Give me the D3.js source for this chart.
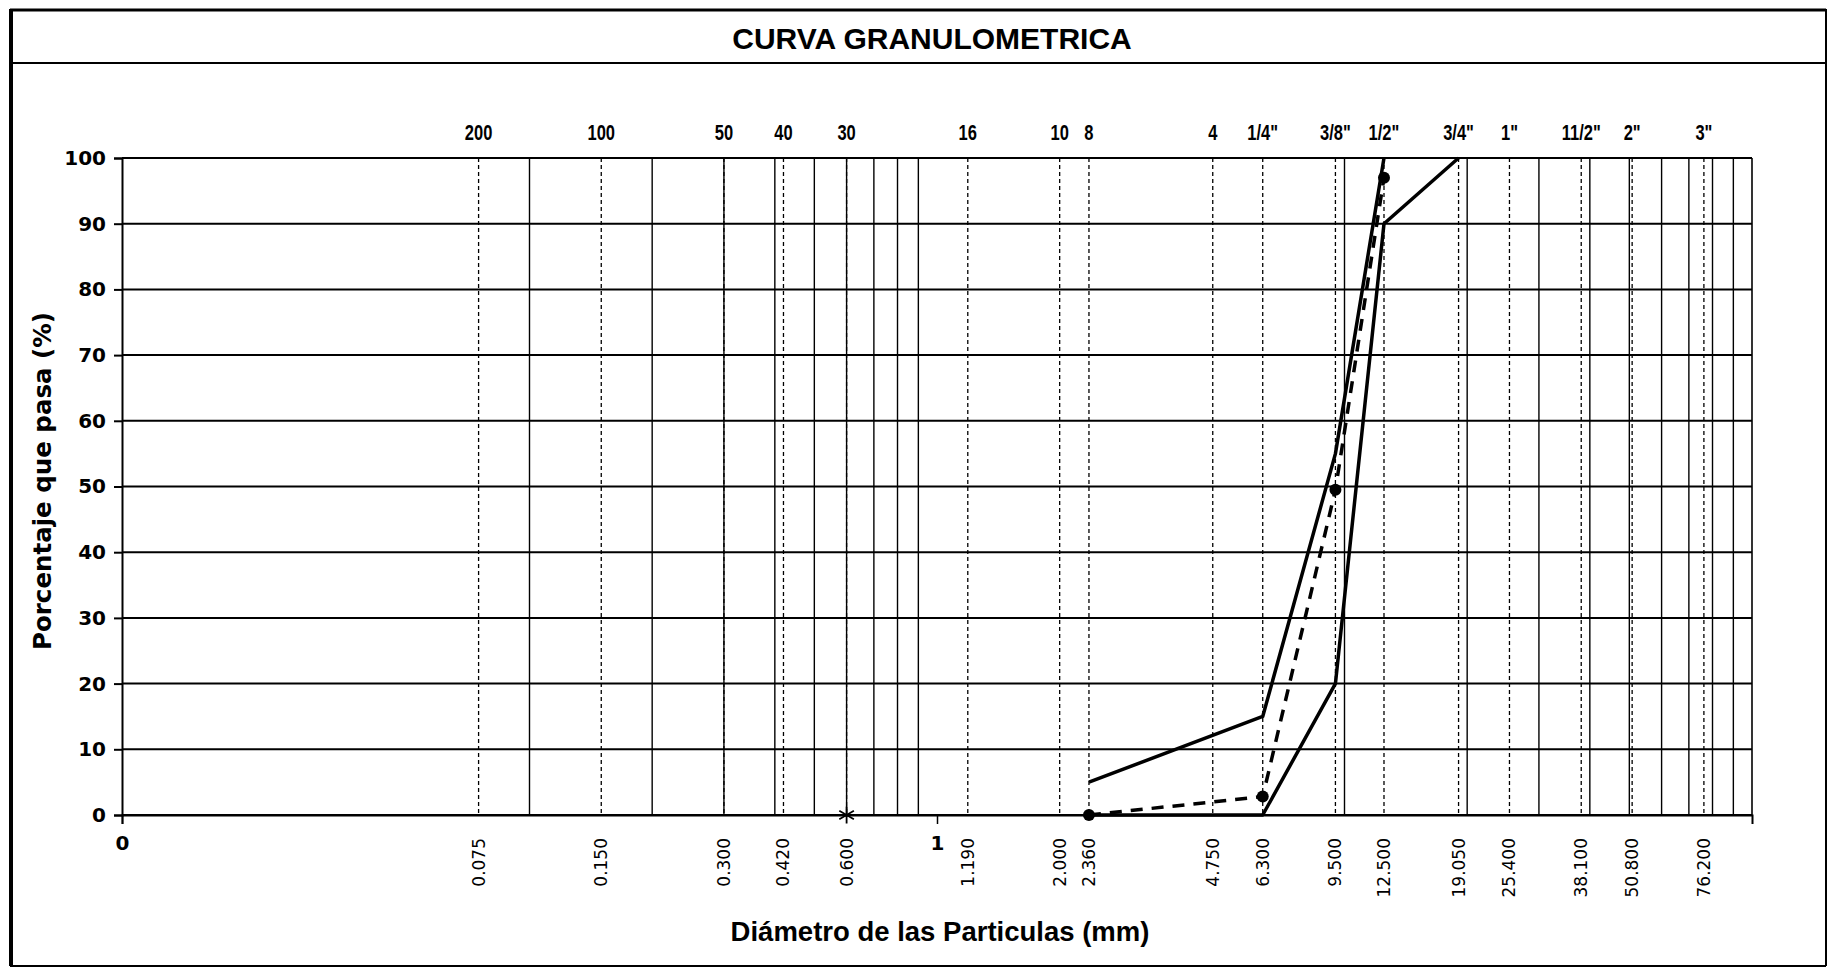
<!DOCTYPE html>
<html>
<head>
<meta charset="utf-8">
<script src="https://cdn.jsdelivr.net/npm/d3@7"></script>
<style>
  html, body { margin: 0; padding: 0; background: #fff; }
  svg { display: block; }
</style>
</head>
<body>
<svg id="chart" width="1829" height="970"></svg>
<script>
// ---------------- DATA ----------------
const chartTitle = "CURVA GRANULOMETRICA";
const yTitle = "Porcentaje que pasa (%)";
const xTitle = "Diámetro de las Particulas (mm)";

const sieveSizes   = [0.075, 0.150, 0.300, 0.420, 0.600, 1.190, 2.000, 2.360, 4.750, 6.300, 9.500, 12.500, 19.050, 25.400, 38.100, 50.800, 76.200];
const sieveLabels  = ["0.075","0.150","0.300","0.420","0.600","1.190","2.000","2.360","4.750","6.300","9.500","12.500","19.050","25.400","38.100","50.800","76.200"];
const sieveNumbers = ["200","100","50","40","30","16","10","8","4","1/4\"","3/8\"","1/2\"","3/4\"","1\"","11/2\"","2\"","3\""];

const minorGrid = [0.1, 0.2, 0.3, 0.4, 0.5, 0.6, 0.7, 0.8, 0.9, 10, 20, 30, 40, 50, 60, 70, 80, 90];
const xTickValues = [0.01, 1];
const xTickLabels = ["0", "1"];
const yTickValues = [0, 10, 20, 30, 40, 50, 60, 70, 80, 90, 100];

const lowerLimitX = [2.36, 4.75, 6.3, 9.5, 12.5, 19.05];
const lowerLimitY = [0, 0, 0, 20, 90, 100];
const upperLimitX = [2.36, 6.3, 9.5, 12.5];
const upperLimitY = [5, 15, 55, 100];
const sampleX = [2.36, 6.3, 9.5, 12.5];
const sampleY = [0, 2.8, 49.5, 97];
const starX = [0.6];
const starY = [0];

// ---------------- LAYOUT ----------------
const W = 1829, H = 970;
const plot = { left: 122, right: 1752, top: 158, bottom: 815 };

const svg = d3.select("#chart");
svg.append("rect").attr("width", W).attr("height", H).attr("fill", "#fff");

// Outer frame
const frame = svg.append("g").attr("stroke", "#000").attr("fill", "none");
frame.append("line").attr("x1", 10).attr("x2", 1826).attr("y1", 10).attr("y2", 10).attr("stroke-width", 3);
frame.append("line").attr("x1", 10).attr("x2", 1826).attr("y1", 63).attr("y2", 63).attr("stroke-width", 2);
frame.append("line").attr("x1", 11).attr("x2", 11).attr("y1", 9).attr("y2", 966).attr("stroke-width", 4);
frame.append("line").attr("x1", 1826).attr("x2", 1826).attr("y1", 9).attr("y2", 966).attr("stroke-width", 2);
frame.append("line").attr("x1", 10).attr("x2", 1826).attr("y1", 966).attr("y2", 966).attr("stroke-width", 2);

svg.append("text")
  .attr("x", 932).attr("y", 38)
  .attr("text-anchor", "middle").attr("dominant-baseline", "central")
  .style("font-family", "'Liberation Sans', Arial, sans-serif")
  .style("font-weight", "bold").style("font-size", "30px")
  .text(chartTitle);

// ---------------- SCALES ----------------
const x = d3.scaleLog().domain([0.01, 100]).range([plot.left, plot.right]);
const y = d3.scaleLinear().domain([0, 100]).range([plot.bottom, plot.top]);

// Horizontal gridlines
svg.append("g").selectAll("line").data(yTickValues).join("line")
  .attr("x1", plot.left).attr("x2", plot.right)
  .attr("y1", d => y(d)).attr("y2", d => y(d))
  .attr("stroke", "#000").attr("stroke-width", 2);

// Minor solid vertical lines
svg.append("g").selectAll("line").data(minorGrid).join("line")
  .attr("x1", d => x(d)).attr("x2", d => x(d))
  .attr("y1", plot.top).attr("y2", plot.bottom)
  .attr("stroke", "#000").attr("stroke-width", 1.4);

// Dashed sieve lines
svg.append("g").selectAll("line").data(sieveSizes).join("line")
  .attr("x1", d => x(d)).attr("x2", d => x(d))
  .attr("y1", plot.top).attr("y2", plot.bottom)
  .attr("stroke", "#000").attr("stroke-width", 1.3)
  .attr("stroke-dasharray", "4,3");

// Plot border (right)
svg.append("line")
  .attr("x1", plot.right).attr("x2", plot.right)
  .attr("y1", plot.top).attr("y2", plot.bottom)
  .attr("stroke", "#000").attr("stroke-width", 1.6);

// Y axis
const yAxis = svg.append("g")
  .attr("transform", `translate(${plot.left},0)`)
  .call(d3.axisLeft(y).tickValues(yTickValues).tickSize(8).tickPadding(8).tickFormat(d3.format("d")));
yAxis.select(".domain").attr("stroke", "#000").attr("stroke-width", 2);
yAxis.selectAll(".tick line").attr("stroke", "#000").attr("stroke-width", 2);
yAxis.selectAll("text")
  .style("font-family", "'DejaVu Sans', Verdana, sans-serif")
  .style("font-weight", "bold").style("font-size", "20px").attr("fill", "#000");

// X axis (log)
const xAxis = svg.append("g")
  .attr("transform", `translate(0,${plot.bottom})`)
  .call(d3.axisBottom(x).tickValues(xTickValues).tickSize(9).tickPadding(12)
    .tickFormat((d, i) => xTickLabels[i]));
xAxis.select(".domain").attr("stroke", "#000").attr("stroke-width", 2);
xAxis.selectAll(".tick line").attr("stroke", "#000").attr("stroke-width", 1.5);
xAxis.selectAll("text")
  .style("font-family", "'DejaVu Sans', Verdana, sans-serif")
  .style("font-weight", "bold").style("font-size", "20px").attr("fill", "#000");

// Rotated sieve size labels
svg.append("g").selectAll("text").data(sieveSizes).join("text")
  .attr("transform", d => `translate(${x(d)},838) rotate(-90)`)
  .attr("text-anchor", "end").attr("dominant-baseline", "central")
  .style("font-family", "'DejaVu Sans', Verdana, sans-serif")
  .style("font-size", "17px")
  .text((d, i) => sieveLabels[i]);

// Sieve number labels on top (condensed)
svg.append("g").selectAll("text").data(sieveSizes).join("text")
  .attr("transform", d => `translate(${x(d)},132) scale(0.75,1)`)
  .attr("text-anchor", "middle").attr("dominant-baseline", "central")
  .style("font-family", "'Liberation Sans', Arial, sans-serif")
  .style("font-weight", "bold").style("font-size", "22px")
  .text((d, i) => sieveNumbers[i]);

// Axis titles
svg.append("text")
  .attr("transform", "translate(42,481) rotate(-90)")
  .attr("text-anchor", "middle").attr("dominant-baseline", "central")
  .style("font-family", "'DejaVu Sans', Verdana, sans-serif")
  .style("font-weight", "bold").style("font-size", "24.5px")
  .text(yTitle);

svg.append("text")
  .attr("x", 940).attr("y", 931)
  .attr("text-anchor", "middle").attr("dominant-baseline", "central")
  .style("font-family", "'Liberation Sans', Arial, sans-serif")
  .style("font-weight", "bold").style("font-size", "27.5px")
  .text(xTitle);

// ---------------- SERIES ----------------
const line = d3.line().x(d => x(d[0])).y(d => y(d[1]));
const zip = (a, b) => a.map((v, i) => [v, b[i]]);

svg.append("path").datum(zip(lowerLimitX, lowerLimitY))
  .attr("d", line).attr("fill", "none").attr("stroke", "#000").attr("stroke-width", 3.5)
  .attr("stroke-linejoin", "round");
svg.append("path").datum(zip(upperLimitX, upperLimitY))
  .attr("d", line).attr("fill", "none").attr("stroke", "#000").attr("stroke-width", 3.5)
  .attr("stroke-linejoin", "round");

const sampleData = zip(sampleX, sampleY);
svg.append("path").datum(sampleData)
  .attr("d", line).attr("fill", "none").attr("stroke", "#000").attr("stroke-width", 3.5)
  .attr("stroke-dasharray", "12,9");
svg.append("g").selectAll("circle").data(sampleData).join("circle")
  .attr("cx", d => x(d[0])).attr("cy", d => y(d[1])).attr("r", 6)
  .attr("fill", "#000");

svg.append("g").selectAll("path").data(zip(starX, starY)).join("path")
  .attr("transform", d => `translate(${x(d[0])},${y(d[1])})`)
  .attr("d", d3.symbol(d3.symbolAsterisk, 200))
  .attr("fill", "none").attr("stroke", "#000").attr("stroke-width", 1.8);
</script>
</body>
</html>
